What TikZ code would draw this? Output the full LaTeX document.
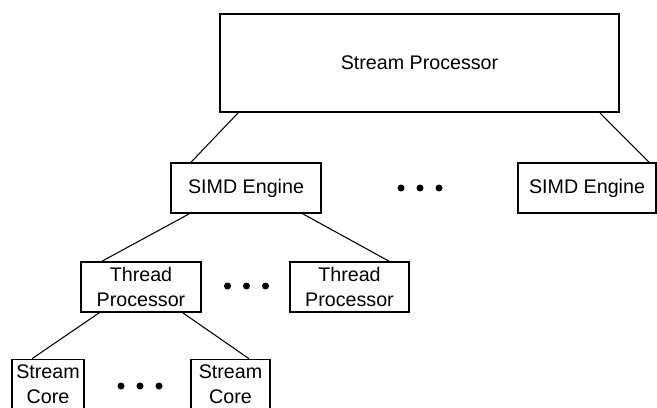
\documentclass[tikz,border=0pt]{standalone}
\usepackage{fontspec}
\setmainfont{Liberation Sans}
\usetikzlibrary{calc}

\begin{document}
\begin{tikzpicture}[
        block/.style={draw, line width=1.0pt, inner sep=0pt, align=center, font=\fontsize{11.2}{14.2}\selectfont},
        link/.style={line width=0.6pt},
        dots/.style={fill, circle, inner sep=0pt, minimum size=0.14cm}
    ]
        \useasboundingbox (0, 0) rectangle (13.14, 8.14);

        % Top level
        \node[block, minimum width=7.98cm, minimum height=1.96cm] (sp) at (8.39, 6.88) {Stream Processor};

        % SIMD engines
        \node[block, minimum width=3.0cm, minimum height=1.0cm] (simd1) at (4.92, 4.38) {SIMD Engine};
        \node[block, minimum width=2.76cm, minimum height=1.0cm] (simd2) at (11.74, 4.38) {SIMD Engine};
        \coordinate (gap1) at (8.4, 4.38);

        % Thread processors
        \node[block, minimum width=2.4cm, minimum height=1.0cm] (tp1) at (2.82, 2.40) {Thread\\Processor};
        \node[block, minimum width=2.38cm, minimum height=1.0cm] (tp2) at (6.99, 2.40) {Thread\\Processor};
        \coordinate (gap2) at (4.93, 2.42);

        % Stream cores
        \node[block, minimum width=1.44cm, minimum height=1.0cm] (sc1) at (0.96, 0.45) {Stream\\Core};
        \node[block, minimum width=1.58cm, minimum height=1.0cm] (sc2) at (4.61, 0.45) {Stream\\Core};
        \coordinate (gap3) at (2.8, 0.42);

        % Dots
        \foreach \g in {gap1, gap2, gap3}
            \foreach \dx in {-0.38, 0, 0.38}
                \node[dots] at ($(\g)+(\dx,0)$) {};

        % Lines
        \draw[link] ($(sp.south west)+(0.38,0)$) -- ($(simd1.north west)+(0.42,0)$);
        \draw[link] ($(sp.south east)+(-0.40,0)$) -- ($(simd2.north east)+(-0.16,0)$);
        \draw[link] ($(simd1.south west)+(0.38,0)$) -- ($(tp1.north west)+(0.44,0)$);
        \draw[link] ($(simd1.south east)+(-0.38,0)$) -- ($(tp2.north east)+(-0.42,0)$);
        \draw[link] ($(tp1.south west)+(0.38,0)$) -- ($(sc1.north west)+(0.42,0)$);
        \draw[link] ($(tp1.south east)+(-0.38,0)$) -- ($(sc2.north east)+(-0.44,0)$);
    \end{tikzpicture}
\end{document}
